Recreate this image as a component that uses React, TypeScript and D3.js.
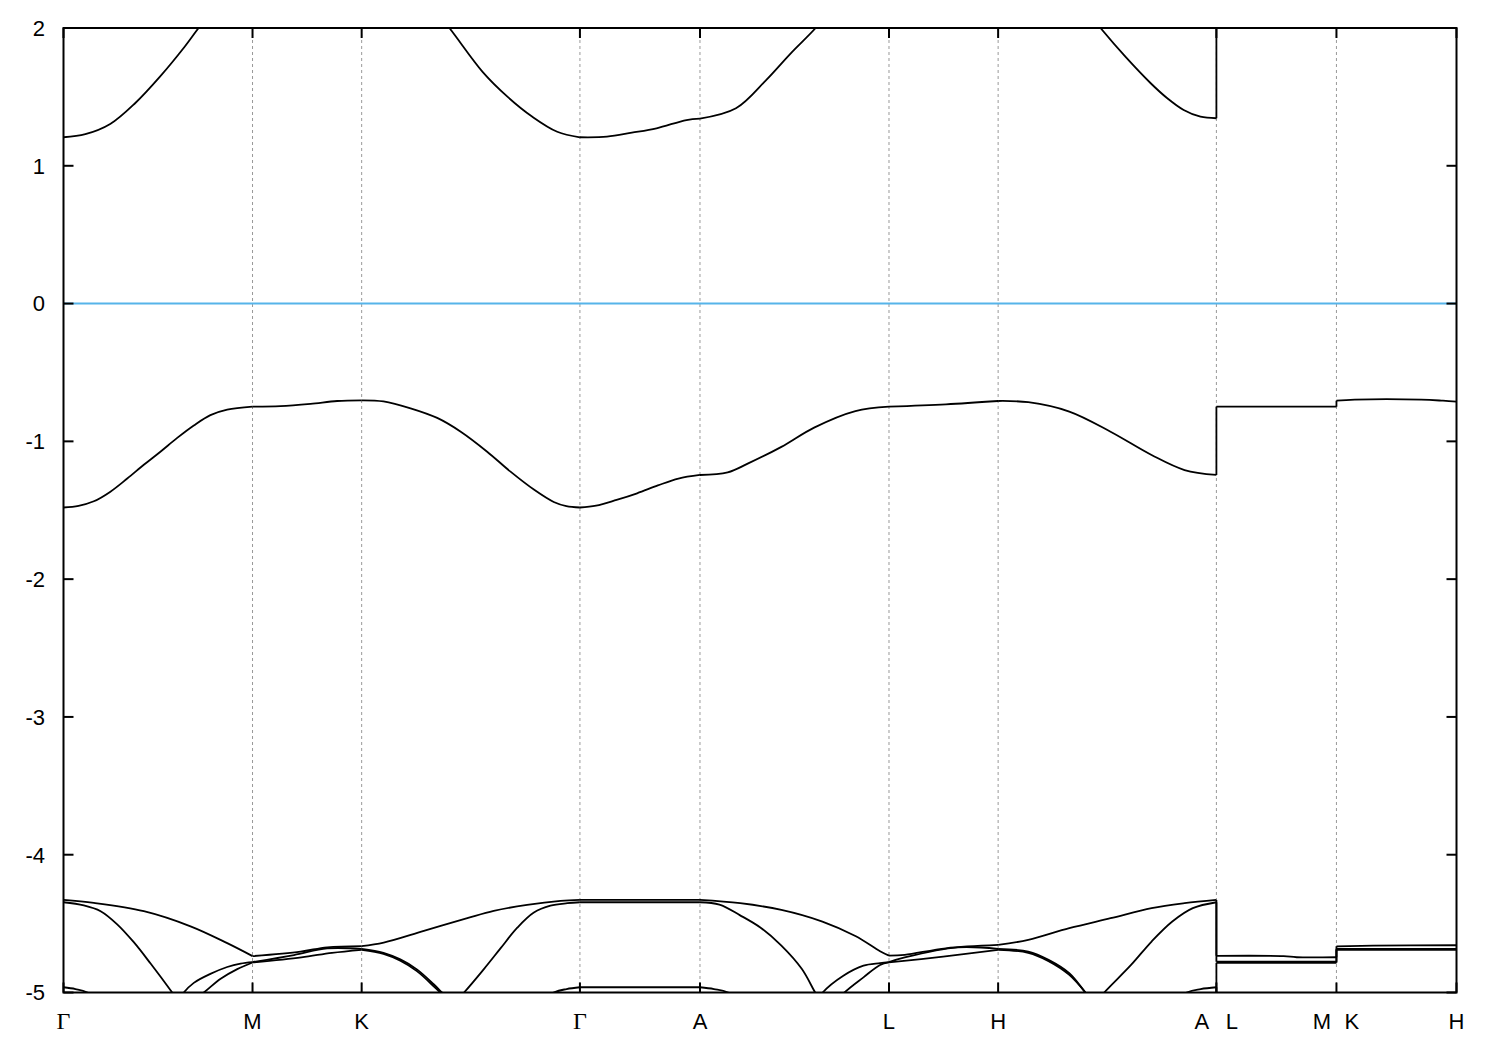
import React from "react";
import * as d3 from "d3";

type P = [number, number];

const kTicks = [0, 0.866, 1.366, 2.366, 2.916, 3.782, 4.282, 5.282, 5.832, 6.382];
const kLabels = ["Γ", "M", "K", "Γ", "A", "L", "H", "A|L", "M|K", "H"];
const yTicks = [-5, -4, -3, -2, -1, 0, 1, 2];
const fermiLevel = 0;

const valenceBand: P[] = [
  [0, -1.48], [0.069, -1.468], [0.139, -1.435], [0.215, -1.365], [0.292, -1.27], [0.368, -1.17], [0.444, -1.075],
  [0.521, -0.975], [0.597, -0.885], [0.673, -0.81], [0.75, -0.77], [0.866, -0.748],
  [0.994, -0.745], [1.132, -0.728], [1.254, -0.707], [1.366, -0.702],
  [1.466, -0.71], [1.59, -0.76], [1.712, -0.83], [1.82, -0.93], [1.941, -1.075], [2.048, -1.22], [2.155, -1.35],
  [2.246, -1.44], [2.304, -1.47], [2.366, -1.48],
  [2.44, -1.467], [2.534, -1.425], [2.628, -1.377], [2.723, -1.32], [2.817, -1.27], [2.916, -1.244],
  [3.043, -1.225], [3.137, -1.16], [3.289, -1.04], [3.439, -0.9], [3.628, -0.78], [3.782, -0.748],
  [4.043, -0.731], [4.282, -0.707],
  [4.42, -0.716], [4.608, -0.784], [4.797, -0.93], [4.985, -1.099], [5.136, -1.208], [5.282, -1.244],
  [5.282, -0.748], [5.832, -0.748],
  [5.832, -0.705], [5.916, -0.697], [6.22, -0.697], [6.32, -0.705], [6.382, -0.712],
];

const conductionBand: P[] = [
  [0, 1.207], [0.1, 1.229], [0.214, 1.303], [0.328, 1.454], [0.442, 1.647], [0.555, 1.864], [0.619, 2.0], [0.72, 2.2], [0.866, 2.5],
  [1.366, 2.8],
  [1.55, 2.42], [1.66, 2.21], [1.768, 2.0], [1.921, 1.68], [2.035, 1.5], [2.148, 1.356], [2.262, 1.247], [2.366, 1.207],
  [2.49, 1.211], [2.604, 1.24], [2.717, 1.272], [2.854, 1.332], [2.916, 1.342],
  [3.081, 1.417], [3.218, 1.62], [3.332, 1.816], [3.446, 2.0], [3.55, 2.2], [3.782, 2.6],
  [4.282, 2.8],
  [4.55, 2.4], [4.751, 2.0], [4.866, 1.79], [4.981, 1.599], [5.057, 1.49], [5.132, 1.405], [5.209, 1.356], [5.282, 1.345],
  [5.282, 2.8], [5.832, 2.8], [5.832, 2.9], [6.382, 2.9],
];

const lowBand1: P[] = [
  [0, -4.328], [0.139, -4.35], [0.368, -4.41], [0.582, -4.52], [0.75, -4.642], [0.866, -4.736],
  [1.086, -4.703], [1.208, -4.672], [1.366, -4.663],
  [1.467, -4.638], [1.651, -4.553], [1.85, -4.461], [1.971, -4.408], [2.124, -4.364], [2.277, -4.335], [2.366, -4.328],
  [2.916, -4.328],
  [3.1, -4.352], [3.289, -4.4], [3.477, -4.485], [3.628, -4.59], [3.741, -4.7], [3.782, -4.732],
  [3.854, -4.727], [4.043, -4.679], [4.282, -4.655],
  [4.42, -4.618], [4.608, -4.533], [4.797, -4.461], [4.985, -4.388], [5.136, -4.352], [5.282, -4.328],
  [5.282, -4.734], [5.59, -4.736], [5.65, -4.744], [5.832, -4.744],
  [5.832, -4.665], [6.0, -4.66], [6.382, -4.657],
];

const lowBand2: P[] = [
  [0, -4.345], [0.093, -4.368], [0.17, -4.41], [0.246, -4.505], [0.322, -4.635], [0.399, -4.79], [0.498, -5.0],
  [0.525, -5.06], [0.551, -5.0], [0.597, -4.93], [0.673, -4.865], [0.75, -4.815], [0.811, -4.79], [0.866, -4.779],
  [1.056, -4.728], [1.208, -4.68], [1.366, -4.684],
  [1.466, -4.712], [1.543, -4.76], [1.619, -4.832], [1.696, -4.94], [1.734, -5.0], [1.785, -5.08], [1.835, -5.0],
  [1.926, -4.83], [2.002, -4.68], [2.079, -4.53], [2.155, -4.42], [2.231, -4.37], [2.308, -4.352], [2.366, -4.345],
  [2.916, -4.345],
  [3.005, -4.362], [3.1, -4.44], [3.194, -4.53], [3.289, -4.66], [3.383, -4.83], [3.444, -5.0], [3.461, -5.04],
  [3.478, -5.0], [3.571, -4.88], [3.665, -4.805], [3.741, -4.787], [3.782, -4.779],
  [3.854, -4.745], [4.096, -4.672], [4.282, -4.684],
  [4.42, -4.703], [4.513, -4.763], [4.608, -4.86], [4.682, -5.0], [4.725, -5.08], [4.768, -5.0], [4.891, -4.8],
  [4.985, -4.63], [5.08, -4.485], [5.174, -4.388], [5.282, -4.345],
  [5.282, -4.776], [5.832, -4.776], [5.832, -4.683], [6.382, -4.683],
];

const lowBand3: P[] = [
  [0, -5.6], [0.4, -5.3], [0.643, -5.0], [0.72, -4.9], [0.796, -4.83], [0.866, -4.782],
  [1.09, -4.745], [1.23, -4.712], [1.366, -4.69],
  [1.466, -4.72], [1.543, -4.77], [1.619, -4.845], [1.696, -4.955], [1.734, -5.015], [1.85, -5.25], [2.366, -5.6],
  [2.916, -5.6],
  [3.4, -5.3], [3.578, -5.0], [3.665, -4.89], [3.741, -4.8], [3.782, -4.782],
  [4.03, -4.74], [4.282, -4.69],
  [4.42, -4.712], [4.513, -4.772], [4.608, -4.872], [4.69, -5.015], [4.8, -5.25], [5.282, -5.6],
  [5.282, -4.784], [5.832, -4.784], [5.832, -4.69], [6.382, -4.69],
];

const lowBand4: P[] = [
  [0, -4.962], [0.055, -4.975], [0.11, -5.0], [0.4, -5.3], [0.866, -5.5], [1.366, -5.5], [1.9, -5.3],
  [2.245, -5.0], [2.305, -4.975], [2.366, -4.962],
  [2.916, -4.962],
  [2.98, -4.975], [3.045, -5.0], [3.3, -5.3], [3.782, -5.5], [4.282, -5.5], [4.85, -5.3], [5.146, -5.0],
  [5.21, -4.975], [5.282, -4.962],
  [5.282, -5.5], [6.382, -5.5],
];

const bands: P[][] = [valenceBand, conductionBand, lowBand1, lowBand2, lowBand3, lowBand4];

const W = 1500;
const H = 1050;
const X0 = 63.5;
const X1 = 1456.5;
const YT = 28;
const YB = 992.5;

const isTick = (k: number) => kTicks.some((t) => Math.abs(t - k) < 1e-9);

function splitPieces(pts: P[]) {
  const out: { pts: P[]; smooth: boolean }[] = [];
  let cur: P[] = [pts[0]];
  for (let i = 1; i < pts.length; i++) {
    const p = pts[i];
    const prev = pts[i - 1];
    if (Math.abs(p[0] - prev[0]) < 1e-9) {
      if (cur.length > 1) out.push({ pts: cur, smooth: true });
      out.push({ pts: [prev, p], smooth: false });
      cur = [p];
    } else {
      cur.push(p);
      if (isTick(p[0])) {
        out.push({ pts: cur, smooth: true });
        cur = [p];
      }
    }
  }
  if (cur.length > 1) out.push({ pts: cur, smooth: true });
  return out;
}

export default function App() {
  const x = d3.scaleLinear().domain([0, kTicks[kTicks.length - 1]]).range([X0, X1]);
  const y = d3.scaleLinear().domain([-5, 2]).range([YB, YT]);

  const smoothLine = d3
    .line<P>()
    .x((d) => x(d[0]))
    .y((d) => y(d[1]))
    .curve(d3.curveCatmullRom.alpha(0.5));
  const straightLine = d3
    .line<P>()
    .x((d) => x(d[0]))
    .y((d) => y(d[1]));

  const font = "'Liberation Sans', Arial, Helvetica, sans-serif";
  const serif = "'Liberation Serif', 'Times New Roman', serif";

  const renderLabel = (label: string, k: number, i: number) => {
    const cx = x(k);
    const baseY = 1029;
    const parts = label.split("|");
    if (parts.length === 2) {
      return (
        <g key={`lab${i}`}>
          <text x={cx - 14.5} y={baseY} textAnchor="middle" fontFamily={font} fontSize={22}>
            {parts[0]}
          </text>
          <text x={cx + 15.5} y={baseY} textAnchor="middle" fontFamily={font} fontSize={22}>
            {parts[1]}
          </text>
        </g>
      );
    }
    const isGreek = label === "Γ";
    return (
      <text
        key={`lab${i}`}
        x={cx}
        y={baseY}
        textAnchor="middle"
        fontFamily={isGreek ? serif : font}
        fontSize={isGreek ? 24 : 22}
      >
        {label}
      </text>
    );
  };

  return (
    <svg
      width={W}
      height={H}
      style={{ position: "absolute", left: 0, top: 0, background: "#fff" }}
      xmlns="http://www.w3.org/2000/svg"
    >
      <defs>
        <clipPath id="plotClip">
          <rect x={X0} y={YT} width={X1 - X0} height={YB - YT} />
        </clipPath>
      </defs>
      <rect x={0} y={0} width={W} height={H} fill="#fff" />

      {kTicks.slice(1, -1).map((k, i) => (
        <line
          key={`g${i}`}
          x1={x(k)}
          x2={x(k)}
          y1={YT}
          y2={YB}
          stroke="#999"
          strokeWidth={1}
          strokeDasharray="3,3"
        />
      ))}

      <line x1={X0} x2={X1} y1={y(fermiLevel)} y2={y(fermiLevel)} stroke="#56b4e9" strokeWidth={2} />

      <g clipPath="url(#plotClip)" fill="none" stroke="#000" strokeWidth={1.8} strokeLinejoin="round">
        {bands.map((b, bi) =>
          splitPieces(b).map((pc, pi) => (
            <path key={`b${bi}-${pi}`} d={(pc.smooth ? smoothLine(pc.pts) : straightLine(pc.pts)) || ""} />
          ))
        )}
      </g>

      <rect x={X0} y={YT} width={X1 - X0} height={YB - YT} fill="none" stroke="#000" strokeWidth={2} />

      {kTicks.map((k, i) => (
        <g key={`xt${i}`} stroke="#000" strokeWidth={2}>
          <line x1={x(k)} x2={x(k)} y1={YB} y2={YB - 10} />
          <line x1={x(k)} x2={x(k)} y1={YT} y2={YT + 10} />
        </g>
      ))}

      {yTicks.map((v, i) => (
        <g key={`yt${i}`}>
          <line x1={X0} x2={X0 + 10} y1={y(v)} y2={y(v)} stroke="#000" strokeWidth={2} />
          <line x1={X1} x2={X1 - 10} y1={y(v)} y2={y(v)} stroke="#000" strokeWidth={2} />
          <text x={45} y={y(v)} dy="0.36em" textAnchor="end" fontFamily={font} fontSize={22}>
            {`${v}`}
          </text>
        </g>
      ))}

      {kLabels.map((l, i) => renderLabel(l, kTicks[i], i))}
    </svg>
  );
}
